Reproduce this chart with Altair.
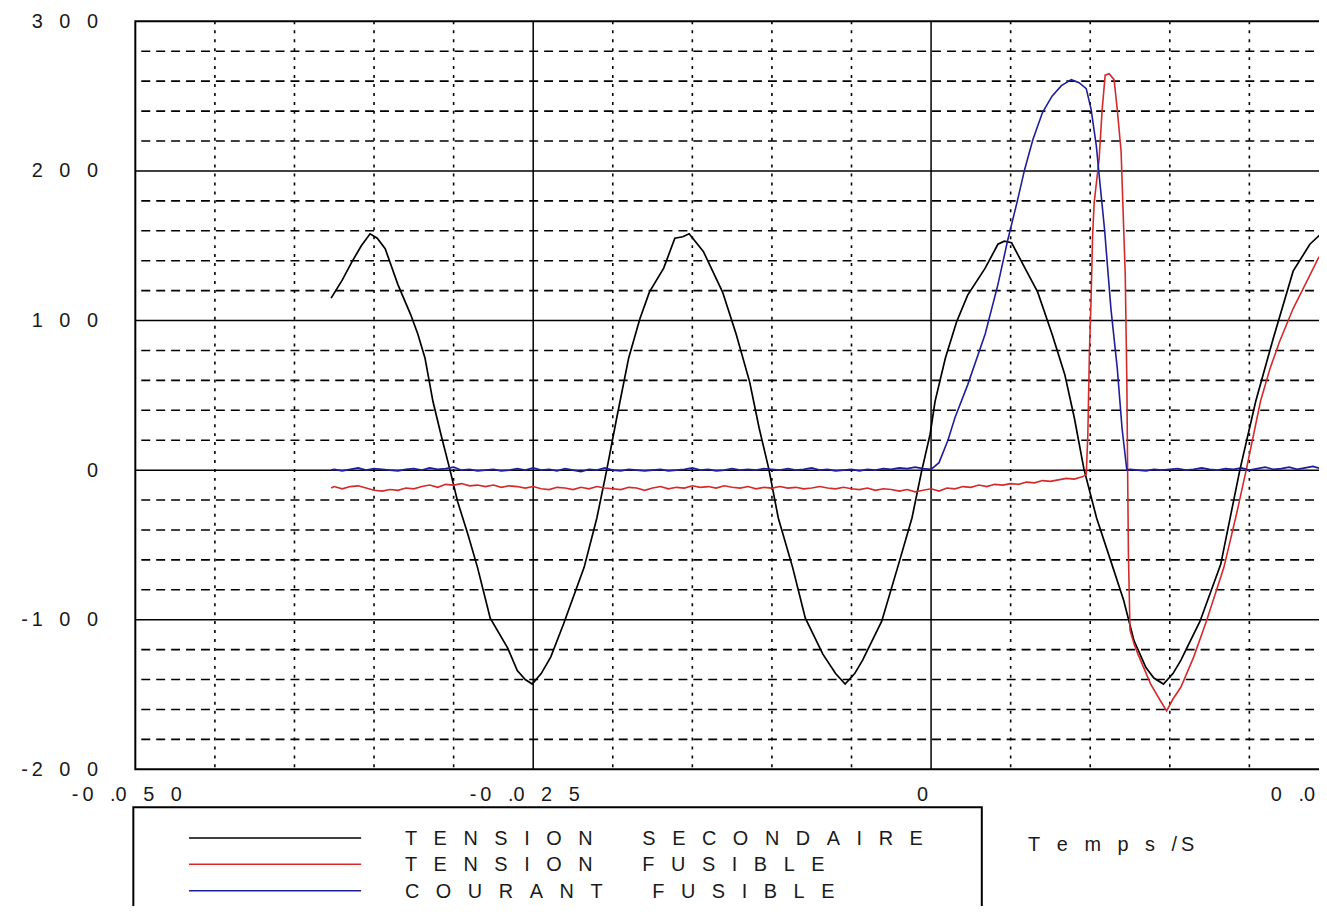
import altair as alt
import pandas as pd

FONT = "Liberation Sans"
TXT = "#1a1a1a"
SP = "\u2002\u2004"      # wide letter gap of the original bitmap font
THIN = "\u2009"
WORD = "\u2003\u2003\u2002"

# ---------------- data (time in ms, value) ----------------
black_t_ms = [-37.7, -37.0, -36.4, -35.8, -35.25, -34.8, -34.3, -33.5, -32.7, -32.25,
              -31.8, -31.3, -30.8, -30.25, -29.75, -29.1, -28.5, -27.7, -26.6, -26.0,
              -25.5, -25.06, -24.5, -23.9, -23.1, -21.8, -21.0, -20.4, -19.75, -19.0,
              -18.3, -17.7, -16.8, -16.1, -15.6, -15.2, -14.3, -13.1, -12.25, -11.4,
              -10.8, -10.2, -9.6, -8.7, -7.9, -6.8, -6.0, -5.4, -4.8, -4.3,
              -3.1, -2.1, -1.2, -0.6, -0.06, 0.25, 0.9, 1.6, 2.3, 3.4,
              4.2, 4.6, 5.06, 5.9, 6.7, 7.6, 8.4, 9.0, 9.6, 10.4,
              11.3, 12.1, 12.75, 13.5, 14.0, 14.6, 15.2, 15.7, 16.9, 18.2,
              19.4, 20.4, 21.5, 22.75, 23.8, 24.4]
black_v = [115, 127, 139, 150, 158, 155, 148, 124, 104, 91,
           75, 46, 24, 1, -21, -43, -65, -99, -119, -134,
           -140, -143, -136, -125, -103, -65, -32, -1, 35, 75,
           101, 119, 135, 155, 156, 158, 146, 119, 91, 59,
           28, 1, -32, -65, -99, -123, -136, -143, -136, -127,
           -101, -65, -32, -1, 24, 46, 75, 99, 117, 135,
           151, 153, 152, 135, 119, 91, 64, 35, 1, -32,
           -61, -87, -114, -132, -139, -143, -136, -127, -101, -63,
           0, 46, 88, 133, 151, 157]

# red: noisy baseline sampled every 0.5 ms from -37.5 to 9.5 ms
red_base_v = [-11, -12.5, -11, -10.5, -12, -13.5, -14, -13, -13.5, -12,
              -12.5, -11, -10, -11.5, -9.5, -10, -9, -10.5, -10, -11,
              -10, -11.5, -10.5, -11, -12, -11, -12.5, -13, -11.5, -12,
              -13, -11.5, -12.5, -11, -12, -12.5, -13, -11.5, -12, -13.5,
              -12, -11, -12.5, -11.5, -12, -10.5, -11.5, -11, -12, -10.5,
              -11.5, -12, -11, -12.5, -11.5, -12, -11, -12, -11.5, -12.5,
              -12, -11, -12, -12.5, -11.5, -12.5, -13, -12, -13.5, -12.5,
              -13, -14, -13, -14.5, -13.5, -12.5, -14, -12, -12.5, -11,
              -11.5, -10, -11, -9.5, -10, -9, -9.5, -8, -8.5, -7,
              -7.5, -6.5, -5.5, -6, -4.5]
red_spike_t_ms = [9.75, 9.85, 9.95, 10.05, 10.15, 10.25, 10.56, 10.75, 10.94, 11.19, 11.5,
                  11.7, 11.94, 12.06, 12.2, 12.3, 12.35, 12.4, 12.5, 12.75, 13.0,
                  13.8, 14.4, 14.8, 15.2, 15.7, 16.5, 17.3, 18.4, 19.2, 19.8,
                  20.7, 21.3, 21.9, 22.75, 23.6, 24.3, 24.6]
red_spike_v = [-3, 24, 79, 113, 157, 179, 208, 241, 264, 265, 261,
               241, 213, 175, 131, 60, 0, -56, -107, -116, -123,
               -143, -154, -161, -153, -145, -125, -101, -65, -29, 0,
               46, 68, 86, 108, 126, 141, 146]

# blue: baseline every 0.5 ms from -37.5 to 0 ms, pulse, baseline 12.5 .. 24.5 ms
blue_pre_v = [0.5, -0.5, 0.5, 1.5, 0, 1, 0.5, 0, -0.5, 0.5,
              1, 0, 1.5, 0.5, 1, 2, 0, 0.5, -0.5, 0,
              0.5, -0.5, 0, 1, 0, 1.5, 0, 0.5, -0.5, 1,
              0, -1, 0.5, 0, 1.5, 0, -0.5, 0.5, 0, -0.5,
              0, 0.5, -0.5, 0, 0.5, 1.5, 0, 0.5, -0.5, 0,
              1, 0, 0.5, 0, 1, 0.5, 0, 1, 0, 0.5,
              1.5, 0, 0.5, -0.5, 0, 0.5, -0.5, 0.5, 0, 1,
              0.5, 1.5, 1, 2, 1, 0.5]
blue_pulse_t_ms = [0.5, 1.06, 1.5, 2.3, 3.4, 4.2, 4.8, 5.4, 5.88, 6.4, 7.0, 7.6,
                   8.19, 8.81, 9.3, 9.75, 10.06, 10.38, 10.6, 10.9, 11.3, 11.7, 12.0, 12.3]
blue_pulse_v = [5, 20, 35, 57, 91, 124, 153, 179, 201, 221, 239, 250,
                257, 261, 259, 255, 241, 217, 193, 161, 108, 68, 28, 0]
blue_post_v = [0.5, 0, -0.5, 0.5, 0, 0.5, 1, 0, 0.5, 1.5, 0.5, 0, 1,
               0.5, 1.5, 0, 1, 2, 0.5, 1, 2, 0.5, 1.5, 2.5, 1]

series_names = ["TENSION SECONDAIRE", "TENSION FUSIBLE", "COURANT FUSIBLE"]
series_colors = ["#000000", "#d42a2c", "#1e1e9a"]

x_ticks = [-0.050, -0.025, 0.0, 0.025]
x_tick_labels = ["-0.050", "-0.025", "0", "0.025"]
y_ticks = [-200, -100, 0, 100, 200, 300]
y_tick_labels = ["-200", "-100", "0", "100", "200", "300"]
x_major_grid = [-0.025, 0.0]
x_minor_grid = [-0.045, -0.040, -0.035, -0.030, -0.020, -0.015, -0.010, -0.005,
                0.005, 0.010, 0.015, 0.020]
y_major_grid = [-100, 0, 100, 200]
y_minor_grid = [-180, -160, -140, -120, -80, -60, -40, -20, 20, 40, 60, 80,
                120, 140, 160, 180, 220, 240, 260, 280]
x_title = "Temps/S"

# ---------------- helpers ----------------
def spaced_number(s):
    out = ""
    prev = ""
    for c in s:
        if prev == "":
            out += c
        elif prev == "-":
            out += THIN + c
        elif prev == ".":
            out += c
        else:
            out += SP + c
        prev = c
    return out


def spaced_words(s):
    return WORD.join(SP.join(w) for w in s.split(" "))


def label_expr(vals, labs):
    e = "''"
    for v, l in reversed(list(zip(vals, labs))):
        e = f"abs(datum.value - ({v})) < 1e-9 ? '{spaced_number(l)}' : {e}"
    return e


black = pd.DataFrame({"t": [t / 1000 for t in black_t_ms], "v": black_v})
red_t = [-37.7] + [(-37.5 + 0.5 * i) / 1000 * 1000 for i in range(len(red_base_v))] + red_spike_t_ms
red_v = [-12] + red_base_v + red_spike_v
red = pd.DataFrame({"t": [t / 1000 for t in red_t], "v": red_v})
blue_t = ([-37.7] + [-37.5 + 0.5 * i for i in range(len(blue_pre_v))] + blue_pulse_t_ms
          + [12.5 + 0.5 * i for i in range(len(blue_post_v))])
blue_v = [0] + blue_pre_v + blue_pulse_v + blue_post_v
blue = pd.DataFrame({"t": [t / 1000 for t in blue_t], "v": blue_v})

xs = alt.Scale(domain=[-0.05, 0.025], nice=False, zero=False)
ys = alt.Scale(domain=[-200, 300], nice=False, zero=False)

title_txt = SP.join("Temps") + SP + "/" + THIN + "S"

x_axis = alt.Axis(values=x_ticks, labelExpr=label_expr(x_ticks, x_tick_labels),
                  grid=False, ticks=False, domain=False, labelPadding=25,
                  labelBaseline="middle", labelOffset=-9, labelFlush=False,
                  labelOverlap=False, title=title_txt, titleX=897, titleY=76,
                  titleAlign="left", titleBaseline="middle")
y_axis = alt.Axis(values=y_ticks, labelExpr=label_expr(y_ticks, y_tick_labels),
                  grid=False, ticks=False, domain=False, labelPadding=38,
                  labelAlign="right", labelBaseline="middle", labelFlush=False,
                  labelOverlap=False, title=None)

one = pd.DataFrame({"k": [0]})

layers = []
layers.append(alt.Chart(pd.DataFrame({"x": x_minor_grid})).mark_rule(
    color="black", strokeWidth=1.6, strokeDash=[3, 6]).encode(
    x=alt.X("x:Q", scale=xs, axis=x_axis)))
layers.append(alt.Chart(pd.DataFrame({"y": y_minor_grid})).mark_rule(
    color="black", strokeWidth=1.6, strokeDash=[9, 6]).encode(
    y=alt.Y("y:Q", scale=ys, axis=y_axis)))
layers.append(alt.Chart(pd.DataFrame({"x": x_major_grid})).mark_rule(
    color="black", strokeWidth=1.5).encode(
    x=alt.X("x:Q", scale=xs, axis=x_axis)))
layers.append(alt.Chart(pd.DataFrame({"y": y_major_grid})).mark_rule(
    color="black", strokeWidth=1.5).encode(
    y=alt.Y("y:Q", scale=ys, axis=y_axis)))

for df, col, w in [(black, series_colors[0], 1.7), (red, series_colors[1], 1.6),
                   (blue, series_colors[2], 1.6)]:
    layers.append(alt.Chart(df).mark_line(color=col, strokeWidth=w).encode(
        x=alt.X("t:Q", scale=xs, axis=x_axis),
        y=alt.Y("v:Q", scale=ys, axis=y_axis)))

# legend box
layers.append(alt.Chart(one).mark_rect(fill="white", stroke="black", strokeWidth=2).encode(
    x=alt.value(-2), x2=alt.value(851), y=alt.value(790), y2=alt.value(1000)))
for i, (name, col) in enumerate(zip(series_names, series_colors)):
    ly = 821 + 26.5 * i
    layers.append(alt.Chart(one).mark_rule(color=col, strokeWidth=1.6).encode(
        x=alt.value(54), x2=alt.value(227), y=alt.value(ly)))
    layers.append(alt.Chart(one).mark_text(
        align="left", baseline="middle", font=FONT, fontSize=20, color=TXT).encode(
        x=alt.value(271), y=alt.value(ly + 1), text=alt.value(spaced_words(name))))

chart = alt.layer(*layers).properties(
    width=1200, height=752,
    autosize=alt.AutoSizeParams(type="none"),
    padding={"left": 128, "top": 11, "right": -10, "bottom": 135},
).configure_view(stroke="black", strokeWidth=2).configure_axis(
    labelFont=FONT, labelFontSize=20, labelColor=TXT,
    titleFont=FONT, titleFontSize=20, titleFontWeight="normal", titleColor=TXT)

chart.save("out.html", embed_options={"renderer": "svg", "actions": False})
